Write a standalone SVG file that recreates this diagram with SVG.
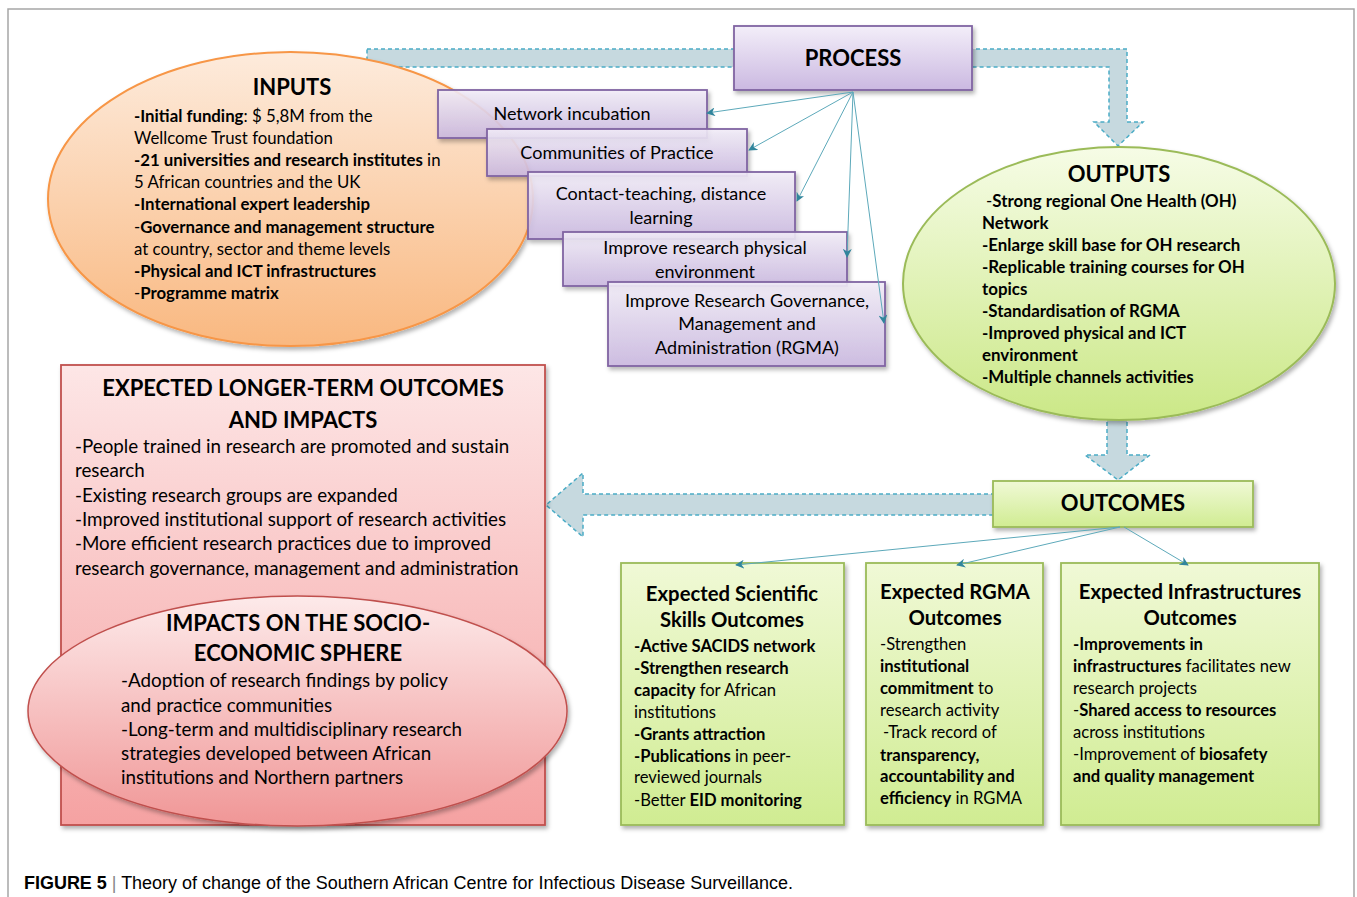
<svg xmlns="http://www.w3.org/2000/svg" width="1357" height="897" viewBox="0 0 1357 897">
<defs>
<linearGradient id="gPurple" x1="0" y1="0" x2="0" y2="1"><stop offset="0" stop-color="#f3eef9"/><stop offset="1" stop-color="#cbb9e1"/></linearGradient>
<linearGradient id="gOrange" x1="0" y1="0" x2="0" y2="1"><stop offset="0" stop-color="#fdebdc"/><stop offset="1" stop-color="#f9b880"/></linearGradient>
<linearGradient id="gGreenEll" x1="0" y1="0" x2="0" y2="1"><stop offset="0" stop-color="#f6fce6"/><stop offset="1" stop-color="#cbe887"/></linearGradient>
<linearGradient id="gGreenBox" x1="0" y1="0" x2="0" y2="1"><stop offset="0" stop-color="#f0f9d6"/><stop offset="1" stop-color="#d0ec92"/></linearGradient>
<linearGradient id="gRed" x1="0" y1="0" x2="0" y2="1"><stop offset="0" stop-color="#fde6e6"/><stop offset="1" stop-color="#f5a2a2"/></linearGradient>
<linearGradient id="gRedEll" x1="0" y1="0" x2="0" y2="1"><stop offset="0" stop-color="#fdeaea"/><stop offset="1" stop-color="#f09696"/></linearGradient>
<filter id="shadow" x="-10%" y="-10%" width="125%" height="130%"><feDropShadow dx="2" dy="3" stdDeviation="2" flood-color="#000" flood-opacity="0.3"/></filter>
<marker id="ah" viewBox="0 0 10 10" refX="9" refY="5" markerWidth="9" markerHeight="9" markerUnits="userSpaceOnUse" orient="auto"><path d="M0,0 L10,5 L0,10 L3,5 z" fill="#31859c"/></marker>
</defs>
<style>
.t{font-family:Lato,"Open Sans","Liberation Sans",sans-serif;fill:#000}
.b{font-weight:bold}
.n{font-weight:normal}
.title{font-weight:bold;font-size:22px;text-anchor:middle}
.pbox{fill:url(#gPurple);fill-opacity:0.88;stroke:#8064a2;stroke-width:1.8;filter:url(#shadow)}
.gbox{fill:url(#gGreenBox);stroke:#9bbb59;stroke-width:1.8;filter:url(#shadow)}
.blk{fill:#c6d9df;stroke:#4bacc6;stroke-width:1.5;stroke-dasharray:4 3}
.conn{fill:none;stroke:#5da9ba;stroke-width:1;marker-end:url(#ah)}
.ptxt{font-size:18px;text-anchor:middle}
.inp{font-size:16.8px}
.out{font-size:16.9px;font-weight:bold}
.red{font-size:18.8px}
.grn{font-size:16.6px}
.gt{font-size:20.3px;font-weight:bold;text-anchor:middle}
</style>
<rect x="0" y="0" width="1357" height="897" fill="#fff"/>
<path d="M8,897 L8,9 L1354,9 L1354,897" fill="none" stroke="#a6a6a6" stroke-width="1.5"/>

<g id="block-arrows">
<path class="blk" d="M367,49 L1127,49 L1127,122 L1143,122 L1118,146 L1094,122 L1109,122 L1109,67 L367,67 Z"/>
<path class="blk" d="M1107,400 L1127,400 L1127,455 L1150,455 L1118,480 L1085,455 L1107,455 Z"/>
<path class="blk" d="M995,494 L583,494 L583,473 L546,505 L583,537 L583,515 L995,515 Z"/>
</g>

<g id="inputs">
<ellipse cx="290.5" cy="199" rx="242.5" ry="147" fill="url(#gOrange)" stroke="#f79646" stroke-width="2" filter="url(#shadow)"/>
<text class="t title" x="292" y="95">INPUTS</text>
<text class="t inp" x="134" y="122"><tspan class="b">-Initial funding</tspan>: $ 5,8M from the</text>
<text class="t inp" x="134" y="144">Wellcome Trust foundation</text>
<text class="t inp" x="134" y="166"><tspan class="b">-21 universities and research institutes</tspan> in</text>
<text class="t inp" x="134" y="188">5 African countries and the UK</text>
<text class="t inp b" x="134" y="210">-International expert leadership</text>
<text class="t inp" x="134" y="233">-<tspan class="b">Governance and management structure</tspan></text>
<text class="t inp" x="134" y="255">at country, sector and theme levels</text>
<text class="t inp b" x="134" y="277">-Physical and ICT infrastructures</text>
<text class="t inp" x="134" y="299">-<tspan class="b">Programme matrix</tspan></text>
</g>

<g id="process">
<rect x="734" y="26" width="238" height="64" fill="url(#gPurple)" stroke="#8064a2" stroke-width="1.8" filter="url(#shadow)"/>
<text class="t title" x="853" y="66">PROCESS</text>
</g>

<g id="network-incubation">
<rect class="pbox" x="438" y="90" width="269" height="48"/>
<text class="t ptxt" x="572" y="120">Network incubation</text>
</g>
<g id="communities-of-practice">
<rect class="pbox" x="487" y="129" width="260" height="47"/>
<text class="t ptxt" x="617" y="159">Communities of Practice</text>
</g>
<g id="contact-teaching">
<rect class="pbox" x="528" y="172" width="267" height="67"/>
<text class="t ptxt" x="661" y="200">Contact-teaching, distance</text>
<text class="t ptxt" x="661" y="224">learning</text>
</g>
<g id="physical-environment">
<rect class="pbox" x="563" y="232" width="284" height="54"/>
<text class="t ptxt" x="705" y="254">Improve research physical</text>
<text class="t ptxt" x="705" y="278">environment</text>
</g>
<g id="rgma">
<rect class="pbox" x="608" y="282" width="277" height="84"/>
<text class="t ptxt" x="747" y="307">Improve Research Governance,</text>
<text class="t ptxt" x="747" y="330">Management and</text>
<text class="t ptxt" x="747" y="354">Administration (RGMA)</text>
</g>

<g id="outputs">
<ellipse cx="1119" cy="283.5" rx="216" ry="136.5" fill="url(#gGreenEll)" stroke="#9bbb59" stroke-width="2" filter="url(#shadow)"/>
<text class="t title" x="1119" y="182">OUTPUTS</text>
<text class="t out" x="986" y="207"><tspan class="n">-</tspan>Strong regional One Health (OH)</text>
<text class="t out" x="982" y="229">Network</text>
<text class="t out" x="982" y="251">-Enlarge skill base for OH research</text>
<text class="t out" x="982" y="273">-Replicable training courses for OH</text>
<text class="t out" x="982" y="295">topics</text>
<text class="t out" x="982" y="317">-Standardisation of RGMA</text>
<text class="t out" x="982" y="339">-Improved physical and ICT</text>
<text class="t out" x="982" y="361">environment</text>
<text class="t out" x="982" y="383">-Multiple channels activities</text>
</g>

<g id="outcomes">
<rect x="993" y="481" width="260" height="46" fill="url(#gGreenBox)" stroke="#9bbb59" stroke-width="1.8" filter="url(#shadow)"/>
<text class="t title" x="1123" y="511">OUTCOMES</text>
</g>

<g id="longer-term">
<rect x="61" y="365" width="484" height="460" fill="url(#gRed)" stroke="#c0504d" stroke-width="1.8" filter="url(#shadow)"/>
<text class="t title" x="303" y="396">EXPECTED LONGER-TERM OUTCOMES</text>
<text class="t title" x="303" y="428">AND IMPACTS</text>
<text class="t red" x="75" y="453">-People trained in research are promoted and sustain</text>
<text class="t red" x="75" y="477">research</text>
<text class="t red" x="75" y="502">-Existing research groups are expanded</text>
<text class="t red" x="75" y="526">-Improved institutional support of research activities</text>
<text class="t red" x="75" y="550">-More efficient research practices due to improved</text>
<text class="t red" x="75" y="575">research governance, management and administration</text>
</g>

<g id="socio-economic">
<ellipse cx="297.5" cy="711" rx="269.5" ry="115" fill="url(#gRedEll)" stroke="#c0504d" stroke-width="1.5" filter="url(#shadow)"/>
<text class="t title" x="298" y="631">IMPACTS ON THE SOCIO-</text>
<text class="t title" x="298" y="661">ECONOMIC SPHERE</text>
<text class="t red" x="121" y="687">-Adoption of research findings by policy</text>
<text class="t red" x="121" y="712">and practice communities</text>
<text class="t red" x="121" y="736">-Long-term and multidisciplinary research</text>
<text class="t red" x="121" y="760">strategies developed between African</text>
<text class="t red" x="121" y="784">institutions and Northern partners</text>
</g>

<g id="scientific-skills">
<rect class="gbox" x="621" y="563" width="223" height="262"/>
<text class="t gt" x="732" y="601">Expected Scientific</text>
<text class="t gt" x="732" y="627">Skills Outcomes</text>
<text class="t grn b" x="634" y="652">-Active SACIDS network</text>
<text class="t grn b" x="634" y="674">-Strengthen research</text>
<text class="t grn" x="634" y="696"><tspan class="b">capacity</tspan> for African</text>
<text class="t grn" x="634" y="718">institutions</text>
<text class="t grn b" x="634" y="740">-Grants attraction</text>
<text class="t grn" x="634" y="762"><tspan class="b">-Publications</tspan> in peer-</text>
<text class="t grn" x="634" y="783">reviewed journals</text>
<text class="t grn" x="634" y="806">-Better <tspan class="b">EID monitoring</tspan></text>
</g>

<g id="rgma-outcomes">
<rect class="gbox" x="866" y="563" width="177" height="262"/>
<text class="t gt" x="955" y="599">Expected RGMA</text>
<text class="t gt" x="955" y="625">Outcomes</text>
<text class="t grn" x="880" y="650">-Strengthen</text>
<text class="t grn b" x="880" y="672">institutional</text>
<text class="t grn" x="880" y="694"><tspan class="b">commitment</tspan> to</text>
<text class="t grn" x="880" y="716">research activity</text>
<text class="t grn" x="883" y="738">-Track record of</text>
<text class="t grn b" x="880" y="761">transparency,</text>
<text class="t grn b" x="880" y="782">accountability and</text>
<text class="t grn" x="880" y="804"><tspan class="b">efficiency</tspan> in RGMA</text>
</g>

<g id="infrastructures-outcomes">
<rect class="gbox" x="1061" y="563" width="258" height="262"/>
<text class="t gt" x="1190" y="599">Expected Infrastructures</text>
<text class="t gt" x="1190" y="625">Outcomes</text>
<text class="t grn b" x="1073" y="650">-Improvements in</text>
<text class="t grn" x="1073" y="672"><tspan class="b">infrastructures</tspan> facilitates new</text>
<text class="t grn" x="1073" y="694">research projects</text>
<text class="t grn" x="1073" y="716">-<tspan class="b">Shared access to resources</tspan></text>
<text class="t grn" x="1073" y="738">across institutions</text>
<text class="t grn" x="1073" y="760">-Improvement of <tspan class="b">biosafety</tspan></text>
<text class="t grn b" x="1073" y="782">and quality management</text>
</g>

<g id="connectors">
<line class="conn" x1="853" y1="92" x2="707" y2="113"/>
<line class="conn" x1="853" y1="92" x2="749" y2="150"/>
<line class="conn" x1="853" y1="92" x2="797" y2="201"/>
<line class="conn" x1="853" y1="92" x2="847" y2="257"/>
<line class="conn" x1="853" y1="92" x2="884" y2="323"/>
<line class="conn" x1="1120" y1="527" x2="736" y2="565"/>
<line class="conn" x1="1120" y1="527" x2="957" y2="565"/>
<line class="conn" x1="1124" y1="527" x2="1188" y2="565"/>
</g>

<text font-family="'Liberation Sans',Arial,sans-serif" font-size="18" x="24" y="889" textLength="769" lengthAdjust="spacingAndGlyphs"><tspan font-weight="bold">FIGURE 5</tspan><tspan fill="#888"> | </tspan>Theory of change of the Southern African Centre for Infectious Disease Surveillance.</text>
</svg>
